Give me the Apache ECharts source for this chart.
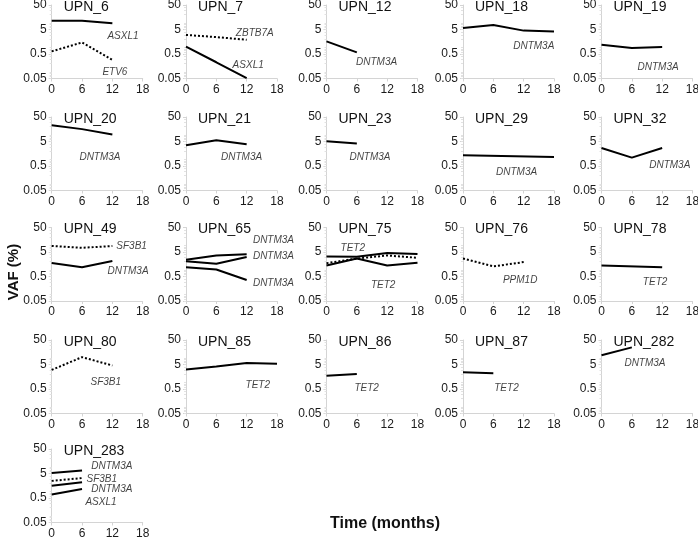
<!DOCTYPE html>
<html><head><meta charset="utf-8">
<script src="https://cdn.jsdelivr.net/npm/echarts@6/dist/echarts.min.js"></script>
<style>html,body{margin:0;padding:0;background:#fff}#c{width:698px;height:541px}</style>
</head><body><div id="c"></div>
<script>
// ---- tick labels ----
const xTicks = [0, 6, 12, 18];
const yTicks = [0.05, 0.5, 5, 50];

// ---- data (VAF %, by month) ----
const m3 = [0, 6, 12];
const m4 = [0, 6, 12, 18];
const m2 = [0, 6];

const upn6_ASXL1 = [11.5, 11.5, 9.0];
const upn6_ETV6 = [0.64, 1.48, 0.29];
const upn7_ZBTB7A = [3.0, 2.45, 1.9];
const upn7_ASXL1 = [1.0, 0.23, 0.052];
const upn12_DNMT3A = [1.63, 0.58];
const upn18_DNMT3A = [5.7, 7.7, 4.5, 4.1];
const upn19_DNMT3A = [1.19, 0.88, 0.96];
const upn20_DNMT3A = [23, 16, 9.7];
const upn21_DNMT3A = [3.5, 5.65, 3.9];
const upn23_DNMT3A = [5.1, 4.15];
const upn29_months = [0, 18];
const upn29_DNMT3A = [1.37, 1.17];
const upn32_DNMT3A = [2.7, 1.1, 2.7];
const upn49_SF3B1 = [8.8, 7.4, 8.8];
const upn49_DNMT3A = [1.77, 1.2, 2.13];
const upn65_DNMT3A_a = [2.4, 3.6, 4.0];
const upn65_DNMT3A_b = [2.1, 1.65, 3.1];
const upn65_DNMT3A_c = [1.2, 0.97, 0.36];
const upn75_TET2_a = [3.3, 3.2, 4.6, 4.1];
const upn75_TET2_b = [1.4, 2.7, 1.4, 1.8];
const upn75_PPM1D = [1.75, 2.7, 3.6, 2.9];
const upn76_PPM1D = [2.7, 1.29, 1.94];
const upn78_months = [0, 12];
const upn78_TET2 = [1.4, 1.2];
const upn80_SF3B1 = [3.0, 10, 4.55];
const upn85_TET2 = [3.1, 4.1, 5.7, 5.4];
const upn86_TET2 = [1.75, 2.05];
const upn87_TET2 = [2.4, 2.2];
const upn282_DNMT3A = [11.9, 25];
const upn283_DNMT3A_a = [5.2, 6.6];
const upn283_SF3B1 = [2.5, 3.25];
const upn283_DNMT3A_b = [1.58, 2.2];
const upn283_ASXL1 = [0.69, 1.17];

// ---- panel definitions (series + gene label anchors in data coords) ----
const panels = [
  {name:'UPN_6', row:0, col:0, lines:[[m3,upn6_ASXL1,0],[m3,upn6_ETV6,1]], labels:[['ASXL1',14.1,2.7],['ETV6',12.5,0.093]]},
  {name:'UPN_7', row:0, col:1, lines:[[m3,upn7_ZBTB7A,1],[m3,upn7_ASXL1,0]], labels:[['ZBTB7A',13.6,3.6],['ASXL1',12.3,0.18]]},
  {name:'UPN_12', row:0, col:2, lines:[[m2,upn12_DNMT3A,0]], labels:[['DNTM3A',9.9,0.24]]},
  {name:'UPN_18', row:0, col:3, lines:[[m4,upn18_DNMT3A,0]], labels:[['DNTM3A',14.0,1.0]]},
  {name:'UPN_19', row:0, col:4, lines:[[m3,upn19_DNMT3A,0]], labels:[['DNTM3A',11.2,0.15]]},
  {name:'UPN_20', row:1, col:0, lines:[[m3,upn20_DNMT3A,0]], labels:[['DNTM3A',9.55,1.17]]},
  {name:'UPN_21', row:1, col:1, lines:[[m3,upn21_DNMT3A,0]], labels:[['DNTM3A',11.0,1.17]]},
  {name:'UPN_23', row:1, col:2, lines:[[m2,upn23_DNMT3A,0]], labels:[['DNTM3A',8.6,1.17]]},
  {name:'UPN_29', row:1, col:3, lines:[[upn29_months,upn29_DNMT3A,0]], labels:[['DNTM3A',10.6,0.29]]},
  {name:'UPN_32', row:1, col:4, lines:[[m3,upn32_DNMT3A,0]], labels:[['DNTM3A',13.5,0.55]]},
  {name:'UPN_49', row:2, col:0, lines:[[m3,upn49_SF3B1,1],[m3,upn49_DNMT3A,0]], labels:[['SF3B1',15.8,9.0],['DNTM3A',15.1,0.79]]},
  {name:'UPN_65', row:2, col:1, lines:[[m3,upn65_DNMT3A_a,0],[m3,upn65_DNMT3A_b,0],[m3,upn65_DNMT3A_c,0]], labels:[['DNTM3A',17.3,15],['DNTM3A',17.3,3.4],['DNTM3A',17.3,0.27]]},
  {name:'UPN_75', row:2, col:2, lines:[[m4,upn75_TET2_a,0],[m4,upn75_TET2_b,0],[m4,upn75_PPM1D,1]], labels:[['TET2',5.2,7.3],['PPM1D',18.1,7.3],['TET2',11.2,0.22]]},
  {name:'UPN_76', row:2, col:3, lines:[[m3,upn76_PPM1D,1]], labels:[['PPM1D',11.3,0.36]]},
  {name:'UPN_78', row:2, col:4, lines:[[upn78_months,upn78_TET2,0]], labels:[['TET2',10.6,0.30]]},
  {name:'UPN_80', row:3, col:0, lines:[[m3,upn80_SF3B1,1]], labels:[['SF3B1',10.7,0.97]]},
  {name:'UPN_85', row:3, col:1, lines:[[m4,upn85_TET2,0]], labels:[['TET2',14.2,0.73]]},
  {name:'UPN_86', row:3, col:2, lines:[[m2,upn86_TET2,0]], labels:[['TET2',7.95,0.56]]},
  {name:'UPN_87', row:3, col:3, lines:[[m2,upn87_TET2,0]], labels:[['TET2',8.6,0.56]]},
  {name:'UPN_282', row:3, col:4, lines:[[m2,upn282_DNMT3A,0]], labels:[['DNTM3A',8.6,5.7]]},
  {name:'UPN_283', row:4, col:0, lines:[[m2,upn283_DNMT3A_a,0],[m2,upn283_SF3B1,1],[m2,upn283_DNMT3A_b,0],[m2,upn283_ASXL1,0]], labels:[['DNTM3A',11.9,9.5],['SF3B1',9.9,3.0],['DNTM3A',11.9,1.13],['ASXL1',9.75,0.35]]}
];

// ---- layout ----
const colX = [51.7, 186, 326.5, 463, 601.5];
const rowY = [5, 117, 227.5, 340, 449];
const PW = 91, PH = 73.5;
const FONT = '"Liberation Sans", Arial, sans-serif';
const AXIS_C = '#d4d4d4';

const grid = [], xAxis = [], yAxis = [], series = [], title = [];
panels.forEach((p, i) => {
  const L = colX[p.col], T = rowY[p.row];
  grid.push({left: L, top: T, width: PW, height: PH, containLabel: false, outerBoundsMode: 'none'});
  xAxis.push({
    type: 'value', gridIndex: i, min: 0, max: 18, interval: 6,
    axisLine: {show: true, lineStyle: {color: AXIS_C, width: 1}},
    axisTick: {show: true, length: 3, lineStyle: {color: AXIS_C}},
    axisLabel: {fontSize: 12, color: '#1a1a1a', margin: 5, fontFamily: FONT},
    splitLine: {show: false}
  });
  yAxis.push({
    type: 'log', logBase: 10, gridIndex: i, min: 0.05, max: 50,
    axisLine: {show: true, lineStyle: {color: AXIS_C, width: 1}},
    axisTick: {show: true, length: 3, customValues: yTicks, lineStyle: {color: AXIS_C}},
    minorTick: {show: true, splitNumber: 9, length: 2, lineStyle: {color: '#e2e2e2'}},
    axisLabel: {fontSize: 12, color: '#1a1a1a', margin: 5, fontFamily: FONT, customValues: yTicks,
      formatter: v => String(+v.toPrecision(3))},
    splitLine: {show: false}
  });
  title.push({text: p.name, left: L + 12, top: T - 5, padding: 0,
    textStyle: {fontSize: 14, fontWeight: 'normal', color: '#111', fontFamily: FONT}});
  p.lines.forEach(([ms, vs, dotted]) => {
    series.push({
      type: 'line', xAxisIndex: i, yAxisIndex: i, symbol: 'none', silent: true,
      data: ms.map((m, k) => [m, vs[k]]),
      lineStyle: {color: '#000', width: 2, type: dotted ? [2, 2] : 'solid'}
    });
  });
  series.push({
    type: 'scatter', xAxisIndex: i, yAxisIndex: i, symbolSize: 0, silent: true,
    data: p.labels.map(l => [l[1], l[2], l[0]]),
    label: {show: true, position: 'inside', formatter: q => q.data[2],
      fontSize: 10, fontStyle: 'italic', color: '#111', fontFamily: FONT}
  });
});

const chart = echarts.init(document.getElementById('c'), null, {renderer: 'canvas'});
chart.setOption({
  animation: false,
  backgroundColor: '#fff',
  title, grid, xAxis, yAxis, series,
  graphic: [
    {type: 'text', x: 14, y: 272, rotation: Math.PI / 2,
      style: {text: 'VAF (%)', font: 'bold 15px ' + FONT, fill: '#111', align: 'center', verticalAlign: 'middle'}},
    {type: 'text', x: 385, y: 524,
      style: {text: 'Time (months)', font: 'bold 16px ' + FONT, fill: '#111', align: 'center', verticalAlign: 'middle'}}
  ]
});
</script></body></html>
